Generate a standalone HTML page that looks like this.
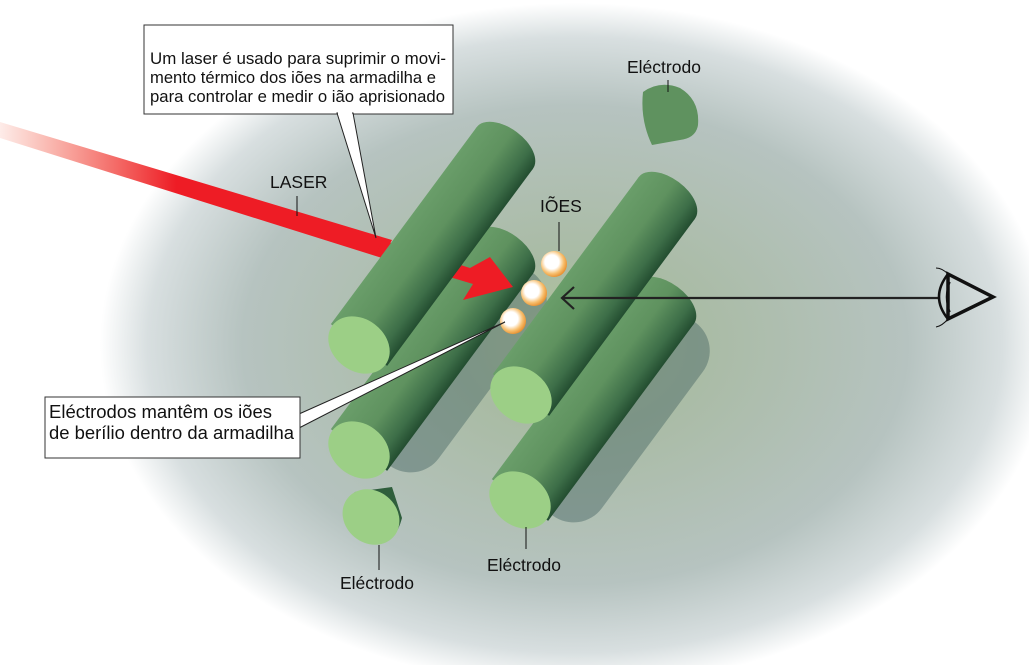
<!DOCTYPE html>
<html><head><meta charset="utf-8"><style>
html,body{margin:0;padding:0;background:#fff;}
svg{display:block;}
text{font-family:"Liberation Sans",Arial,sans-serif;fill:#111;}
</style></head><body>
<svg width="1029" height="665" viewBox="0 0 1029 665" xmlns="http://www.w3.org/2000/svg">
<defs>
<radialGradient id="bg" cx="575" cy="345" r="475" gradientUnits="userSpaceOnUse" gradientTransform="translate(575 345) scale(1 0.72) translate(-575 -345)">
<stop offset="0" stop-color="#b4c49a"/>
<stop offset="0.25" stop-color="#a9bba4"/>
<stop offset="0.7" stop-color="#b6c3c0"/>
<stop offset="0.9" stop-color="#d8dfe0"/>
<stop offset="1" stop-color="#ffffff"/>
</radialGradient>
<linearGradient id="cyl" x1="0" y1="-35" x2="0" y2="35" gradientUnits="userSpaceOnUse">
<stop offset="0" stop-color="#6a9e6a"/>
<stop offset="0.45" stop-color="#5f925f"/>
<stop offset="0.8" stop-color="#3d6e48"/>
<stop offset="1" stop-color="#234d30"/>
</linearGradient>
<linearGradient id="las" x1="0" y1="0" x2="1" y2="0">
<stop offset="0" stop-color="#f04020" stop-opacity="0.1"/>
<stop offset="0.45" stop-color="#ee1c25"/>
<stop offset="1" stop-color="#ee1c25"/>
</linearGradient>
<radialGradient id="ion" cx="0.42" cy="0.42" r="0.6">
<stop offset="0" stop-color="#fff"/>
<stop offset="0.45" stop-color="#fff"/>
<stop offset="0.75" stop-color="#f8c070"/>
<stop offset="1" stop-color="#e89030"/>
</radialGradient>
</defs>
<rect width="1029" height="665" fill="#fff"/>
<ellipse cx="575" cy="345" rx="475" ry="345" fill="url(#bg)"/>

<!-- shadows -->
<g transform="translate(385,462) rotate(-53.5)" opacity="0.4"><rect x="0" y="-35" width="240" height="76" rx="35" fill="#3a5a5a"/></g>
<g transform="translate(548,512) rotate(-53.5)" opacity="0.4"><rect x="0" y="-35" width="240" height="76" rx="35" fill="#3a5a5a"/></g>

<!-- electrode bits -->
<path d="M643,92 Q660,80 680,88 Q700,100 698,125 Q696,138 680,140 L652,145 Q640,120 643,92 Z" fill="#5f925f"/>
<path d="M355,492 L392,487 L402,518 Q395,545 375,543 Q345,535 343,510 Z" fill="#2f5e3c"/>
<ellipse cx="371" cy="517" rx="30" ry="26" transform="rotate(40 371 517)" fill="#9ccf86"/>

<!-- cylinder 2 (back left) -->
<g transform="translate(359,450) rotate(-53.5)">
<rect x="0" y="-35" width="245" height="70" fill="url(#cyl)"/>
<ellipse cx="245" cy="0" rx="20" ry="35" fill="url(#cyl)"/>
<ellipse cx="0" cy="0" rx="26" ry="33" fill="#9ccf86"/>
</g>

<!-- laser -->
<polygon points="0,122 392,240 382,258 0,138" fill="url(#las)"/>
<polygon points="382,240 470,268 490,257 513,287 463,300 473,284 376,255" fill="#ee1c25"/>

<!-- cylinder 1 (front left) -->
<g transform="translate(359,345) rotate(-53.5)">
<rect x="0" y="-35" width="245" height="70" fill="url(#cyl)"/>
<ellipse cx="245" cy="0" rx="20" ry="35" fill="url(#cyl)"/>
<ellipse cx="0" cy="0" rx="26" ry="33" fill="#9ccf86"/>
</g>

<!-- cylinder 4 (back right) -->
<g transform="translate(520,500) rotate(-53.5)">
<rect x="0" y="-35" width="245" height="70" fill="url(#cyl)"/>
<ellipse cx="245" cy="0" rx="20" ry="35" fill="url(#cyl)"/>
<ellipse cx="0" cy="0" rx="26" ry="33" fill="#9ccf86"/>
</g>
<!-- cylinder 3 (front right) -->
<g transform="translate(521,395) rotate(-53.5)">
<rect x="0" y="-35" width="245" height="70" fill="url(#cyl)"/>
<ellipse cx="245" cy="0" rx="20" ry="35" fill="url(#cyl)"/>
<ellipse cx="0" cy="0" rx="26" ry="33" fill="#9ccf86"/>
</g>

<!-- ions -->
<circle cx="554" cy="264" r="13" fill="url(#ion)"/>
<circle cx="534" cy="293" r="13" fill="url(#ion)"/>
<circle cx="513" cy="321" r="13" fill="url(#ion)"/>
<line x1="559" y1="222" x2="559" y2="251" stroke="#111" stroke-width="1"/>

<!-- observation arrow -->
<line x1="562" y1="298" x2="940" y2="298" stroke="#222" stroke-width="2.2"/>
<polyline points="574,287 562,298 574,309" fill="none" stroke="#222" stroke-width="2.2"/>
<!-- eye -->
<polygon points="948,274 993,297 948,319" fill="none" stroke="#111" stroke-width="3.5"/>
<path d="M948,274 Q930,297 948,319" fill="none" stroke="#111" stroke-width="2.5"/>
<path d="M950,282 Q943,297 950,312" fill="none" stroke="#111" stroke-width="1.5"/>
<path d="M948,274 Q942,268 936,268 M948,319 Q942,326 936,327" fill="none" stroke="#111" stroke-width="1"/>

<!-- top callout -->
<rect x="144" y="25" width="309" height="89" fill="#fff" stroke="#333" stroke-width="1"/>
<polygon points="337,113 376,238 353,113" fill="#fff" stroke="#222" stroke-width="1"/>
<rect x="338" y="112" width="14" height="3" fill="#fff"/>
<text x="150" y="64" font-size="16.8" textLength="296" lengthAdjust="spacingAndGlyphs">Um laser é usado para suprimir o movi-</text>
<text x="150" y="83" font-size="16.8" textLength="286" lengthAdjust="spacingAndGlyphs">mento térmico dos iões na armadilha e</text>
<text x="150" y="102" font-size="16.8" textLength="295" lengthAdjust="spacingAndGlyphs">para controlar e medir o ião aprisionado</text>

<!-- bottom callout -->
<polygon points="299,414 505,322 299,428" fill="#fff" stroke="#222" stroke-width="1"/>
<rect x="45" y="397" width="255" height="61" fill="#fff" stroke="#333" stroke-width="1"/>
<text x="49" y="418" font-size="18" textLength="223" lengthAdjust="spacingAndGlyphs">Eléctrodos mantêm os iões</text>
<text x="49" y="439" font-size="18" textLength="245" lengthAdjust="spacingAndGlyphs">de berílio dentro da armadilha</text>

<!-- labels -->
<text x="270" y="188" font-size="17.5">LASER</text>
<line x1="297" y1="196" x2="297" y2="216" stroke="#111" stroke-width="1"/>
<text x="540" y="212" font-size="17.5">IÕES</text>
<text x="627" y="73" font-size="17.5">Eléctrodo</text>
<line x1="668" y1="80" x2="668" y2="92" stroke="#111" stroke-width="1"/>
<text x="340" y="589" font-size="17.5">Eléctrodo</text>
<line x1="379" y1="545" x2="379" y2="570" stroke="#111" stroke-width="1"/>
<text x="487" y="571" font-size="17.5">Eléctrodo</text>
<line x1="526" y1="527" x2="526" y2="549" stroke="#111" stroke-width="1"/>
</svg>
</body></html>
